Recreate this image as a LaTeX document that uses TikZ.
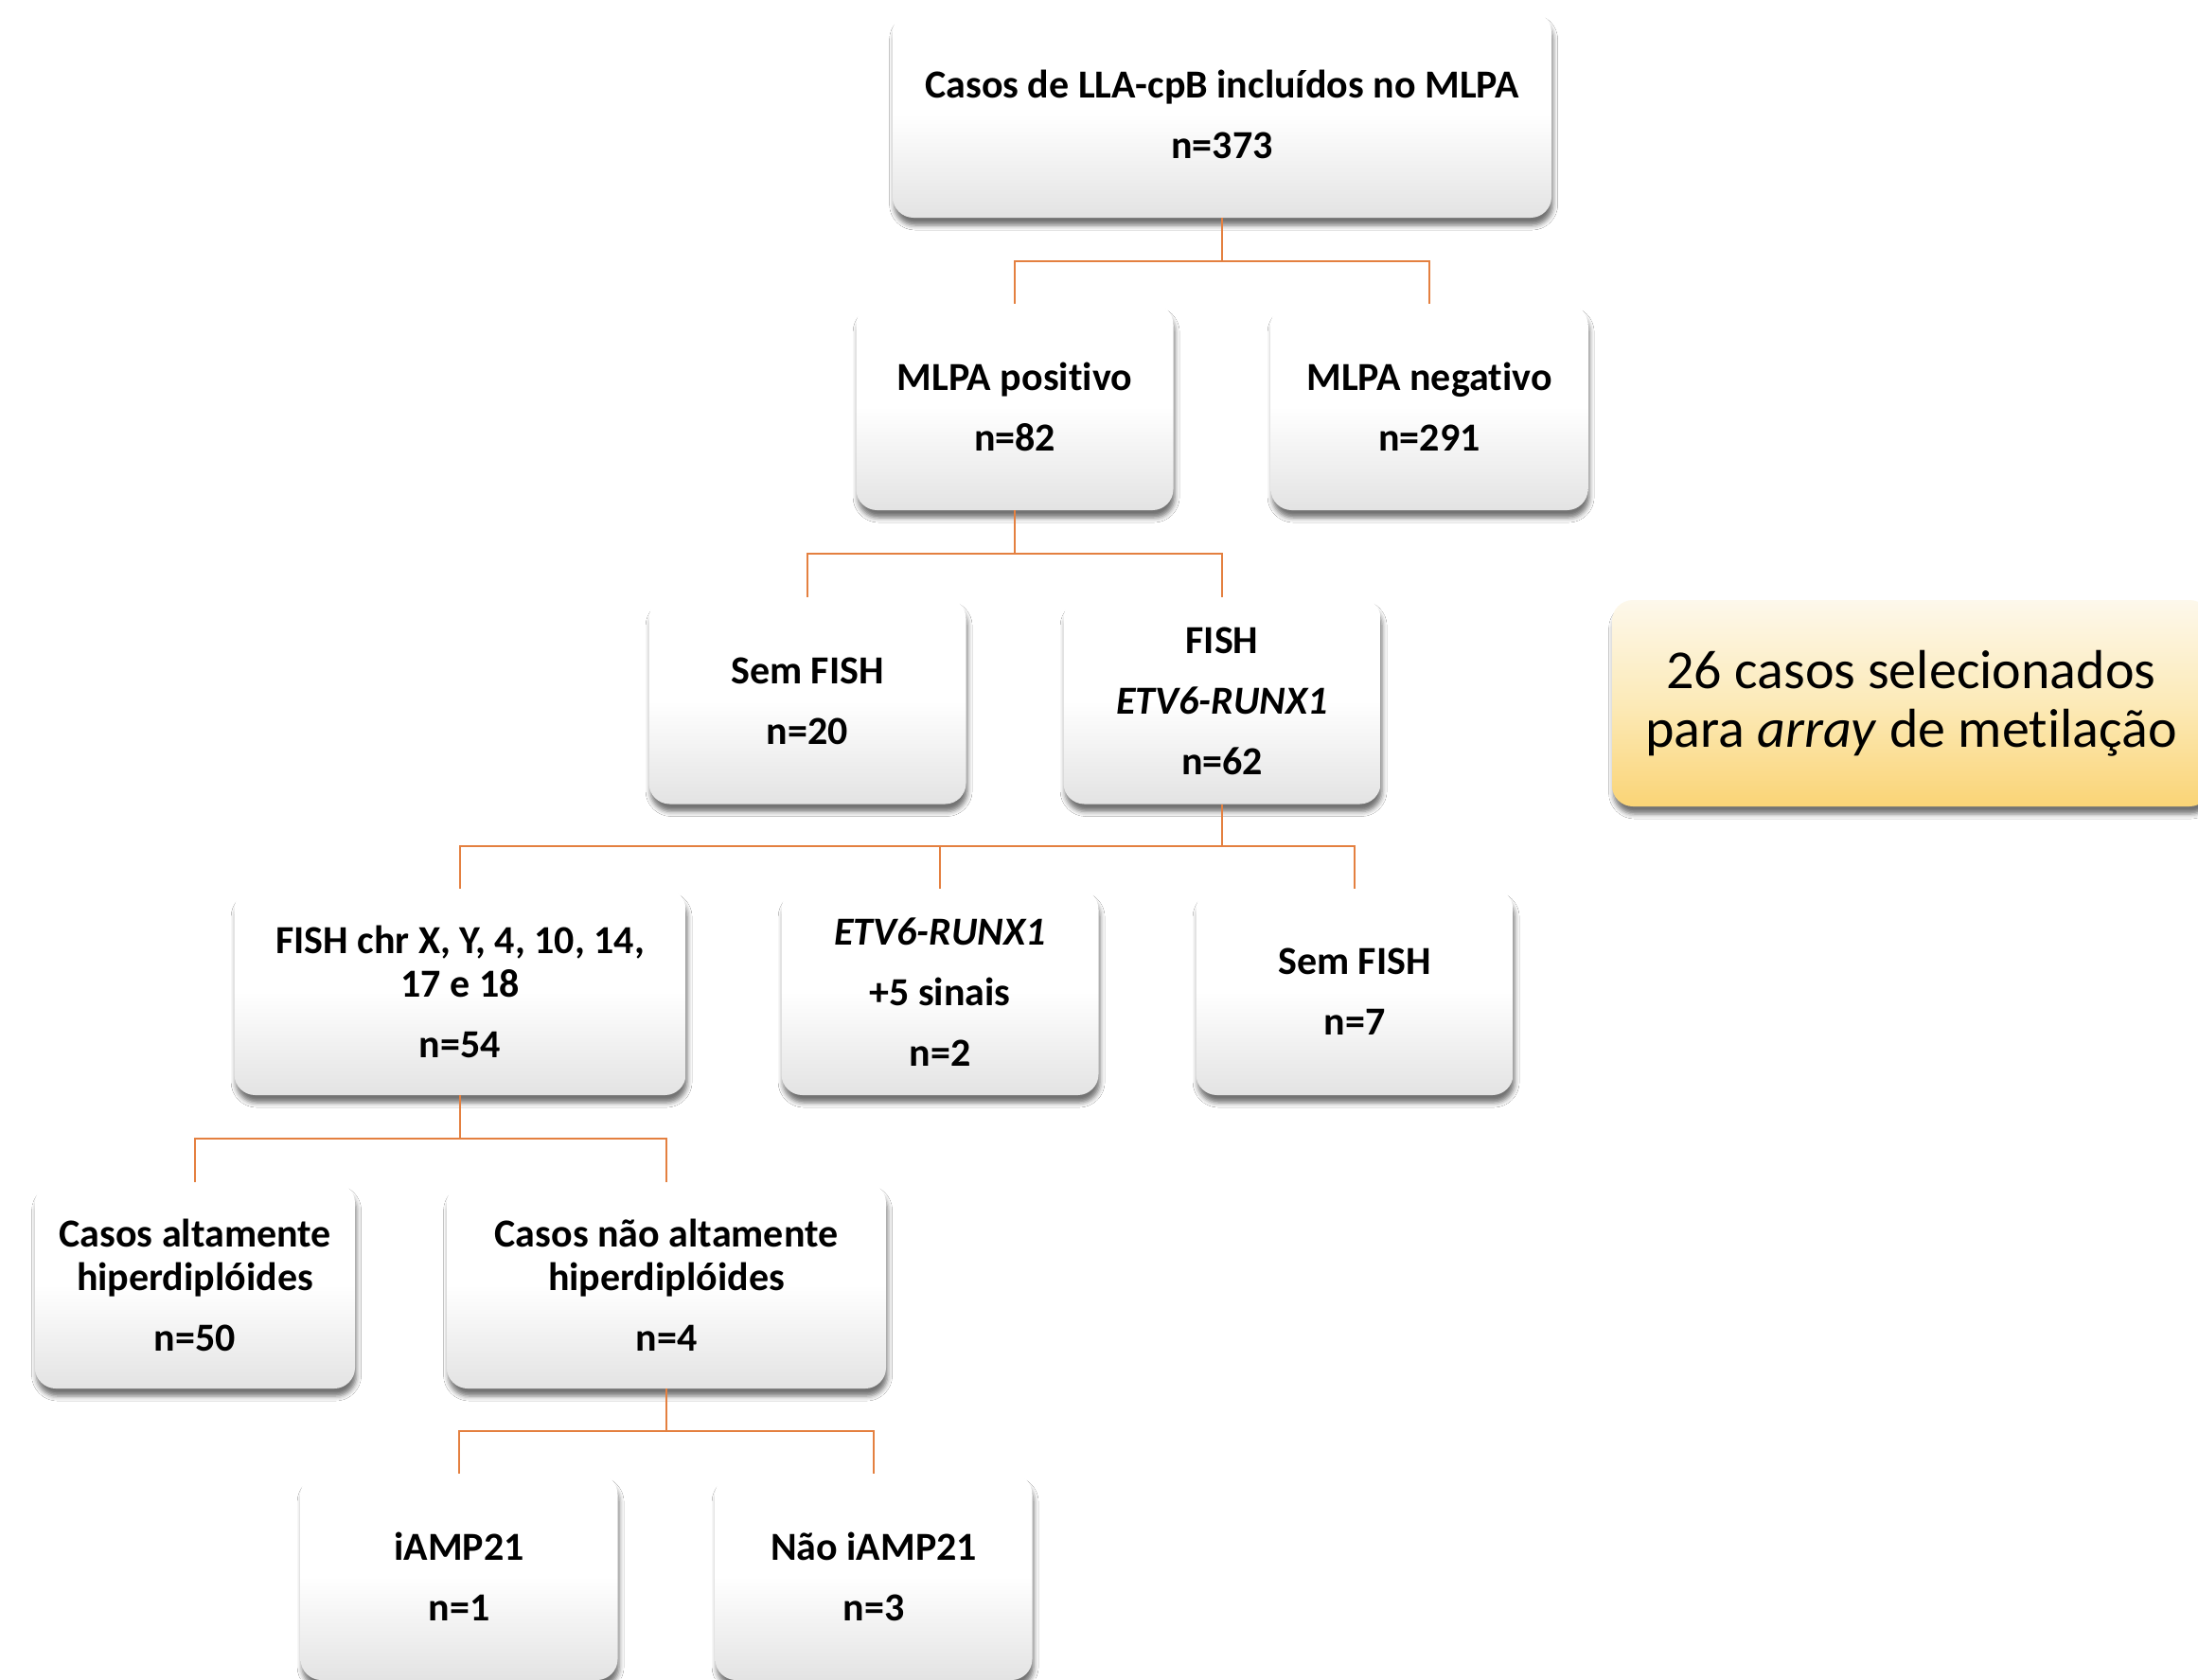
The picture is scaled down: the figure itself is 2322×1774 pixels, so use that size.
\documentclass[tikz,border=0pt]{standalone}
\usepackage{fontspec}
\setmainfont[Ligatures=NoCommon]{Carlito}
\usetikzlibrary{shadows.blur,calc}
\definecolor{conncol}{RGB}{228,128,64}
\definecolor{ytop}{RGB}{253,248,235}
\definecolor{ymid}{RGB}{252,234,184}
\definecolor{ybot}{RGB}{250,212,118}
\begin{document}
\begin{tikzpicture}[x=0.5pt,y=-0.5pt,
  box/.style={rounded corners=11pt, minimum height=109pt, minimum width=167.5pt,
    inner sep=4pt, align=center, top color=white, bottom color=black!11, middle color=white,
    font=\bfseries\fontsize{21}{23}\selectfont,
    blur shadow={shadow xshift=0.8pt, shadow yshift=-4pt, shadow blur radius=2.5pt, shadow opacity=55}},
  ybox/.style={rounded corners=11pt, minimum height=109pt, minimum width=316pt,
    inner sep=4pt, align=center, top color=ytop, bottom color=ybot, middle color=ymid,
    font=\fontsize{29}{31}\selectfont,
    blur shadow={shadow xshift=0.8pt, shadow yshift=-4pt, shadow blur radius=2.5pt, shadow opacity=55}},
  link/.style={draw=conncol, line width=1pt}]
\useasboundingbox (0,0) rectangle (2322,1774);
\fill[white] (0,0) rectangle (2322,1774);

\node[box, minimum width=348pt] (top) at (1291,121) {Casos de LLA-cpB incluídos no MLPA\\[9pt]n=373};
\node[box] (pos) at (1072,430) {MLPA positivo\\[9pt]n=82};
\node[box] (neg) at (1510,430) {MLPA negativo\\[9pt]n=291};
\node[box] (semf) at (853,740.5) {Sem FISH\\[9pt]n=20};
\node[box] (fish) at (1291,740.5) {FISH\\[9pt]\textit{ETV6-RUNX1}\\[9pt]n=62};
\node[box, minimum width=238.5pt] (chr) at (486,1048) {FISH chr X, Y, 4, 10, 14,\\17 e 18\\[9pt]n=54};
\node[box] (etv) at (993,1048) {\textit{ETV6-RUNX1}\\[9pt]+5 sinais\\[9pt]n=2};
\node[box] (semf2) at (1431,1048) {Sem FISH\\[9pt]n=7};
\node[box, minimum width=169pt] (alt) at (206,1358) {Casos altamente\\hiperdiplóides\\[9pt]n=50};
\node[box, minimum width=232pt] (nalt) at (704,1358) {Casos não altamente\\hiperdiplóides\\[9pt]n=4};
\node[box] (iamp) at (485,1666) {iAMP21\\[9pt]n=1};
\node[box] (niamp) at (923,1666) {Não iAMP21\\[9pt]n=3};
\node[ybox] (sel) at (2019,743) {26 casos selecionados\\para \textit{array} de metilação};

\coordinate (b1) at ($(top.south)!0.5!(top.south|-pos.north)$);
\draw[link] (top.south) -- (b1) -| (pos.north);
\draw[link] (b1) -| (neg.north);

\coordinate (b2) at ($(pos.south)!0.5!(pos.south|-semf.north)$);
\draw[link] (pos.south) -- (b2) -| (semf.north);
\draw[link] (b2) -| (fish.north);

\coordinate (b3) at ($(fish.south)!0.5!(fish.south|-chr.north)$);
\draw[link] (fish.south) -- (b3) -| (chr.north);
\draw[link] (b3) -| (etv.north);
\draw[link] (b3) -| (semf2.north);

\coordinate (b4) at ($(chr.south)!0.5!(chr.south|-alt.north)$);
\draw[link] (chr.south) -- (b4) -| (alt.north);
\draw[link] (b4) -| (nalt.north);

\coordinate (b5) at ($(nalt.south)!0.5!(nalt.south|-iamp.north)$);
\draw[link] (nalt.south) -- (b5) -| (iamp.north);
\draw[link] (b5) -| (niamp.north);
\end{tikzpicture}
\end{document}
